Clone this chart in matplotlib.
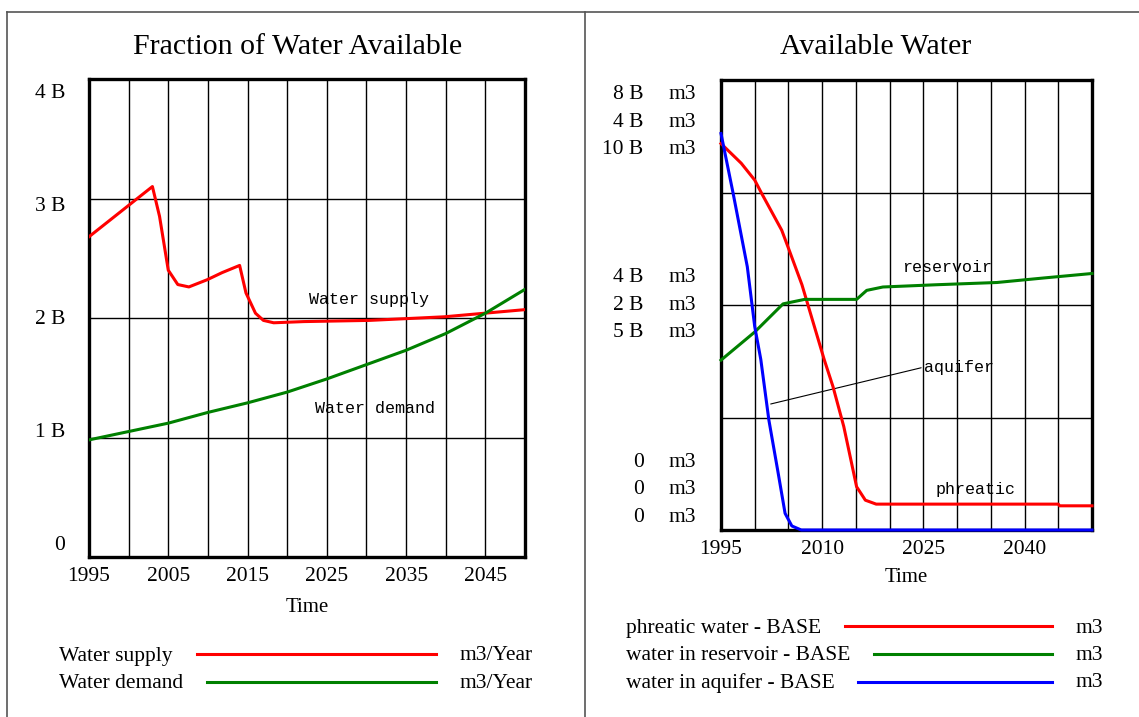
import numpy as np
import matplotlib
matplotlib.use("Agg")
import matplotlib.pyplot as plt
from matplotlib.lines import Line2D

plt.rcParams['font.family'] = ['Liberation Serif', 'DejaVu Serif']

# left panel: yearly flows (billion m3/Year)
supply_years = [1995, 2003.0, 2003.9, 2005.0, 2006.2, 2007.6, 2009.9, 2011.8, 2014.0,
                2014.8, 2016.0, 2017.0, 2018.3, 2022.1, 2030.4, 2039.8, 2050]
supply = [2.68, 3.10, 2.85, 2.40, 2.28, 2.26, 2.32, 2.38, 2.44,
          2.21, 2.04, 1.98, 1.96, 1.97, 1.98, 2.01, 2.07]
demand_years = [1995, 2000, 2005, 2010, 2015, 2020, 2025, 2030, 2035, 2040, 2045, 2050]
demand = [0.98, 1.05, 1.12, 1.21, 1.29, 1.38, 1.49, 1.61, 1.73, 1.87, 2.04, 2.24]

# right panel: stocks (billion m3), each on its own scale
phreatic_years = [1995, 1998, 2000, 2001, 2004, 2005, 2007, 2010.3, 2011.6, 2013.2,
                  2015.1, 2016.4, 2018, 2045, 2045.2, 2050]
phreatic = [6.87, 6.52, 6.22, 5.99, 5.33, 5.01, 4.36, 3.03, 2.55, 1.84,
            0.77, 0.53, 0.46, 0.46, 0.43, 0.43]
reservoir_years = [1995, 2000, 2004.2, 2007.4, 2015.1, 2016.6, 2019, 2026.9, 2035.9, 2042.8, 2050]
reservoir = [1.51, 1.76, 2.01, 2.05, 2.05, 2.13, 2.16, 2.18, 2.20, 2.24, 2.28]
aquifer_years = [1995, 1996.8, 1998.9, 2000, 2000.9, 2002.1, 2003.4, 2004.5, 2005.5, 2006.9, 2050]
aquifer = [8.81, 7.48, 5.85, 4.52, 3.79, 2.44, 1.33, 0.37, 0.09, 0.0, 0.0]
scales = [8, 4, 10]

left_ticks = ['1995', '', '2005', '', '2015', '', '2025', '', '2035', '', '2045', '']
right_ticks = ['1995', '', '', '2010', '', '', '2025', '', '', '2040', '', '']
left_yticks = [0, 1, 2, 3, 4]

RED, GREEN, BLUE = '#ff0000', '#008000', '#0000ff'
W, H = 1139, 717

fig = plt.figure(figsize=(W / 100, H / 100), dpi=100)

# frame around the two panels
frame_kw = dict(color='#555555', lw=1.2, transform=fig.transFigure)
fig.add_artist(Line2D([7 / W, 1], [1 - 12 / H, 1 - 12 / H], **frame_kw))
fig.add_artist(Line2D([7 / W, 7 / W], [0, 1 - 12 / H], **frame_kw))
fig.add_artist(Line2D([585 / W, 585 / W], [0, 1 - 12 / H], **frame_kw))


def style_axes(ax, labels):
    ax.set_xlim(1995, 2050)
    ax.set_xticks(np.arange(1995, 2051, 5))
    ax.set_xticklabels(labels)
    ax.tick_params(length=0, labelsize=15.5, pad=7)
    ax.grid(True, color='black', lw=1.0)
    for s in ax.spines.values():
        s.set_linewidth(2.4)
    ax.set_yticklabels([])
    ax.text(0.5, -0.106, 'Time', transform=ax.transAxes, ha='center', va='center', fontsize=15)


# ---- left panel
ax1 = fig.add_axes([89 / W, 1 - 557 / H, 436 / W, 478 / H])
ax1.set_ylim(0, 4)
ax1.set_yticks(left_yticks)
style_axes(ax1, left_ticks)
ax1.plot(supply_years, supply, color=RED, lw=2.2, zorder=3)
ax1.plot(demand_years, demand, color=GREEN, lw=2.2, zorder=3)
for v in left_yticks:
    lab = '0' if v == 0 else '%d B' % v
    ax1.text(-0.055, 0.025 + 0.944 * v / 4, lab, transform=ax1.transAxes,
             ha='right', va='center', fontsize=15.5)
ax1.text(0.642, 0.538, 'Water supply', transform=ax1.transAxes, ha='center', va='center',
         fontsize=12, family='Liberation Mono')
ax1.text(0.656, 0.310, 'Water demand', transform=ax1.transAxes, ha='center', va='center',
         fontsize=12, family='Liberation Mono')
fig.text(297.5 / W, 1 - 46.7 / H, 'Fraction of Water Available', ha='center', va='center', fontsize=21.5)

# ---- right panel
ax2 = fig.add_axes([721 / W, 1 - 530 / H, 371 / W, 450 / H])
ax2.set_ylim(0, 1)
ax2.set_yticks([0, 0.25, 0.5, 0.75, 1])
style_axes(ax2, right_ticks)
series = [(phreatic_years, phreatic, RED), (reservoir_years, reservoir, GREEN),
          (aquifer_years, aquifer, BLUE)]
for (yrs, vals, col), top in zip(series, scales):
    tw = ax2.twinx()
    tw.set_ylim(0, top)
    tw.axis('off')
    tw.plot(yrs, vals, color=col, lw=2.2, clip_on=False)

# stacked scale labels: one line per series at top, middle and bottom
for frac, centre in [(1.0, 0.906), (0.5, 0.500), (0.0, 0.089)]:
    for i, top in enumerate(scales):
        v = top * frac
        lab = '0' if v == 0 else '%g B' % v
        y = centre + (1 - i) * 0.0611
        ax2.text((643.5 - 721) / 371, y, lab, transform=ax2.transAxes, ha='right', va='center', fontsize=15.5)
        ax2.text((668.4 - 721) / 371, y, 'm3', transform=ax2.transAxes, ha='left', va='center', fontsize=15.5)

ax2.text(0.609, 0.584, 'reservoir', transform=ax2.transAxes, ha='center', va='center',
         fontsize=12, family='Liberation Mono')
ax2.annotate('aquifer', xy=(0.134, 0.280), xycoords='axes fraction',
             xytext=(0.547, 0.362), textcoords='axes fraction', ha='left', va='center',
             fontsize=12, family='Liberation Mono',
             arrowprops=dict(arrowstyle='-', color='black', lw=0.8, shrinkA=0, shrinkB=0, relpos=(0, 0.5)))
ax2.text(0.687, 0.091, 'phreatic', transform=ax2.transAxes, ha='center', va='center',
         fontsize=12, family='Liberation Mono')
fig.text(876 / W, 1 - 46.7 / H, 'Available Water', ha='center', va='center', fontsize=21.5)

# ---- legends under each panel
renderer = fig.canvas.get_renderer()


def legend_row(x_text, y_text, y_line, x_end, x_unit, name, unit, col):
    t = fig.text(x_text / W, 1 - y_text / H, name, ha='left', va='center', fontsize=15.5)
    x0 = t.get_window_extent(renderer).x1 + 24
    fig.add_artist(Line2D([x0 / W, x_end / W], [1 - y_line / H, 1 - y_line / H],
                          color=col, lw=2.2, transform=fig.transFigure))
    fig.text(x_unit / W, 1 - y_text / H, unit, ha='left', va='center', fontsize=15.5)


legend_row(59, 656, 654, 436, 459, 'Water supply', 'm3/Year', RED)
legend_row(59, 683, 682, 436, 459, 'Water demand', 'm3/Year', GREEN)
legend_row(625.6, 628.3, 626, 1052, 1075.5, 'phreatic water - BASE', 'm3', RED)
legend_row(625.6, 655, 654, 1052, 1075.5, 'water in reservoir - BASE', 'm3', GREEN)
legend_row(625.6, 682.7, 681.7, 1052, 1075.5, 'water in aquifer - BASE', 'm3', BLUE)

fig.savefig('out.png', dpi=100)
